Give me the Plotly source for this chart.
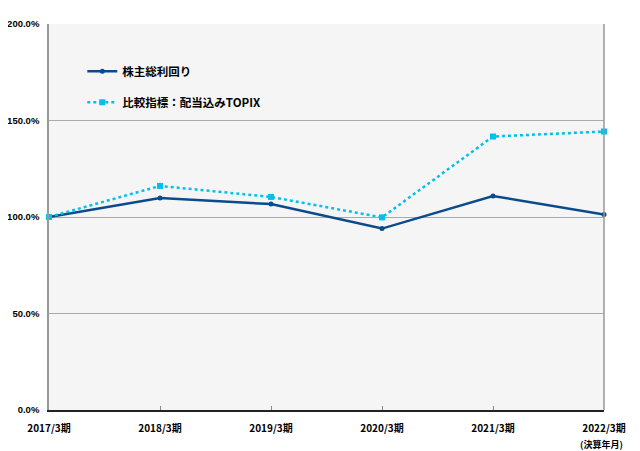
import plotly.graph_objects as go

periods = ['2017/3期', '2018/3期', '2019/3期', '2020/3期', '2021/3期', '2022/3期']
tsr = [100.0, 109.8, 106.7, 94.0, 110.9, 101.3]
topix = [100.0, 116.1, 110.4, 99.8, 141.7, 144.3]
yticks = [0, 50, 100, 150, 200]
ytext = ['0.0%', '50.0%', '100.0%', '150.0%', '200.0%']

xs = list(range(len(periods)))
font_jp = 'Noto Sans CJK JP'

fig = go.Figure()
fig.add_trace(go.Scatter(x=xs, y=tsr, name='株主総利回り', mode='lines+markers',
                         line=dict(color='#0B4A8B', width=2.5),
                         marker=dict(symbol='circle', size=5, color='#0B4A8B'),
                         legendgroup='a', cliponaxis=False))
fig.add_trace(go.Scatter(x=xs, y=topix, name='比較指標：配当込みTOPIX', mode='lines+markers',
                         line=dict(color='#00C0F0', width=2.5, dash='dot'),
                         marker=dict(symbol='square', size=6, color='#00C0F0'),
                         legendgroup='b', cliponaxis=False))

# the page adds an 8px body margin, so the figure is shifted by that much
fig.update_layout(
    width=632, height=443,
    margin=dict(l=41, r=36, t=16, b=41),
    paper_bgcolor='white', plot_bgcolor='#F5F5F5',
    font=dict(family=font_jp, size=11, color='black'),
    legend=dict(x=0.06, y=0.915, xanchor='left', yanchor='top',
                bgcolor='rgba(0,0,0,0)', tracegroupgap=12,
                font=dict(family=font_jp, size=11.5, color='black', weight='bold'),
                itemwidth=30),
    xaxis=dict(range=[0, 5], tickvals=xs, ticktext=periods, showgrid=False,
               showline=True, linecolor='#222222', linewidth=1.5, zeroline=False,
               ticks='inside', ticklen=4, tickcolor='#888888',
               tickfont=dict(family=font_jp, size=10, weight='bold'),
               ticklabelstandoff=8, automargin=False),
    yaxis=dict(range=[0, 200], tickvals=yticks, ticktext=ytext,
               showgrid=True, gridcolor='#AAAAAA', gridwidth=1,
               showline=True, linecolor='#999999', linewidth=1.5, zeroline=False,
               tickfont=dict(family='Liberation Sans', size=9.5, weight='bold'),
               ticklabelstandoff=6, automargin=False),
)
# right border of the plot area
fig.add_shape(type='line', xref='paper', yref='paper', x0=1, x1=1, y0=0, y1=1,
              line=dict(color='#999999', width=1.5))
fig.add_annotation(text='(決算年月)', xref='paper', yref='paper', x=1.038, y=-0.068,
                   xanchor='right', yanchor='top', showarrow=False,
                   font=dict(family=font_jp, size=9, weight='bold'))

fig.write_html("out.html")
